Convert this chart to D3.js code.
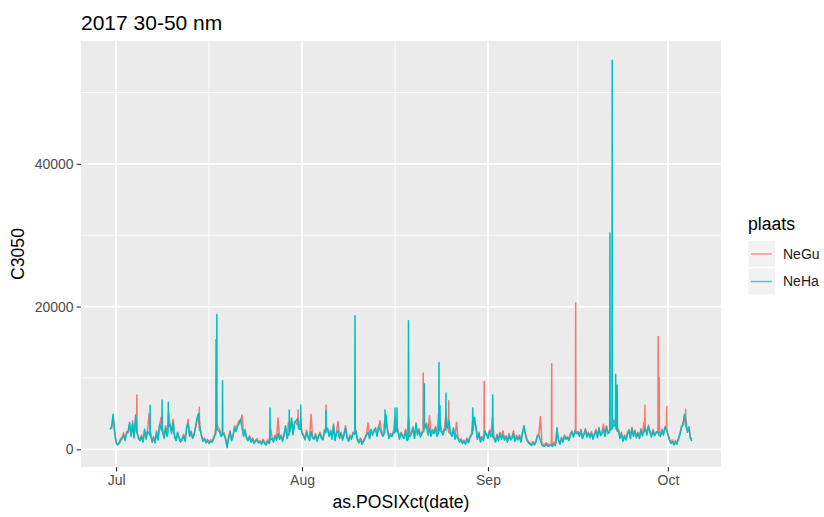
<!DOCTYPE html>
<html>
<head>
<meta charset="utf-8">
<script src="https://cdn.jsdelivr.net/npm/d3@7/dist/d3.min.js"></script>
<style>
  html, body { margin: 0; padding: 0; background: #ffffff; }
  svg { display: block; font-family: "Liberation Sans", Arial, sans-serif; }
</style>
</head>
<body>
<svg id="chart" width="824" height="517"></svg>
<script>
// Particle counts, 30-50 nm. Background readings every 6 hours from
// 2017-06-30 00:00 UTC; short events are kept as hourly readings.
const seriesNames = ["NeGu", "NeHa"];
const seriesColors = ["#F8766D", "#00BFC4"];
const startTime = Date.UTC(2017, 5, 30, 0, 0);
const stepHours = 6;

const neGu = [
  3000, 2900, 4200, 2700,  1100, 700, 900, 1500,  1700, 2300, 1200, 2500,  2300, 3400, 2000, 4000,
  1800, 3900, 2600, 1700,  1400, 2000, 1200, 2600,  1600, 2700, 5000, 2000,  1200, 1800, 1100, 2600,
  1500, 3200, 4500, 2300,  1700, 3300, 2000, 5200,  3200, 2500, 4200, 1900,  1400, 2200, 1700, 1200,
  1500, 2100, 1300, 2700,  4200, 2000, 2600, 1700,  2200, 3000, 4000, 4600,  2800, 2000, 1300, 1600,
  1100, 1400, 1000, 1300,  1200, 1600, 2300, 3800,  3000, 2800, 2000, 2200,  2300, 1600, 500, 1700,
  2600, 1400, 2000, 3300,  2700, 3500, 4000, 3900,  4800, 2000, 2800, 1700,  1400, 1900, 1200, 1600,
  1000, 1300, 1500, 1100,  1200, 900, 1400, 1000,  800, 1300, 1000, 3000,  1700, 1200, 2000, 1500,
  4400, 1600, 2000, 1300,  2200, 3000, 1700, 3800,  2700, 4000, 2200, 3900,  3800, 3200, 3000, 4200,
  2400, 2000, 1500, 2700,  1900, 1400, 4900, 1800,  1600, 2200, 1300, 2000,  2400, 1700, 1500, 2800,
  2600, 2800, 2000, 2700,  1600, 3200, 1400, 2500,  3900, 1700, 2400, 1500,  2200, 3300, 1800, 1300,
  2000, 1600, 2400, 2300,  2600, 1400, 1100, 1600,  900, 1300, 1700, 2200,  3700, 1700, 2600, 2200,
  2700, 2800, 2000, 3000,  4000, 2400, 2000, 3800,  4200, 2800, 1700, 2200,  2000, 2600, 4500, 3500,
  2700, 1600, 2400, 2000,  1700, 2800, 1400, 4500,  2000, 2400, 3200, 1700,  3000, 2200, 2900, 1900,
  2400, 2600, 3000, 3700,  2200, 4700, 2000, 2800,  2400, 3200, 2000, 5000,  4000, 2700, 2200, 3000,
  5000, 3200, 2600, 2400,  2000, 2800, 1600, 3800,  1700, 1200, 1500, 1000,  1300, 900, 1600, 1100,
  1800, 2200, 4500, 4000,  3200, 1600, 2400, 1200,  1800, 1400, 2000, 2200,  1700, 2700, 2000, 4500,
  1700, 1200, 2100, 1400,  2400, 1600, 2600, 1500,  1900, 1200, 2200, 1500,  1700, 2600, 1300, 2000,
  1500, 2000, 1200, 2400,  3000, 2200, 1400, 1100,  900, 700, 1100, 800,  1200, 2000, 2200, 4600,
  800, 600, 700, 900,  600, 700, 700, 600,  1000, 700, 2400, 1400,  900, 1700, 1200, 2000,
  1600, 1800, 1400, 2200,  2600, 1900, 2300, 2400,  2500, 2000, 2800, 1700,  2200, 2900, 1900, 2400,
  1800, 2500, 1600, 2200,  2800, 1800, 3100, 2100,  2400, 3500, 2000, 3300,  2400, 2600, 3000, 3200,
  4100, 3500, 3000, 2800,  1700, 2400, 1300, 2000,  1500, 2300, 2800, 1700,  3100, 2000, 2700, 1800,
  2400, 1700, 2900, 2100,  3700, 2600, 2200, 3400,  2600, 1900, 2800, 2100,  2400, 2500, 2300, 2000,
  2800, 2200, 3200, 2700,  2200, 1500, 1000, 1300,  800, 1200, 900, 1600,  2200, 3200, 3600, 4500,
  3400, 2600, 3200, 1700,  1400
];

const neHa = [
  2800, 3200, 4900, 2500,  900, 600, 800, 1200,  1500, 1900, 1300, 2200,  2500, 3800, 1800, 3500,
  1600, 4800, 2400, 1500,  1200, 1800, 1000, 2800,  1400, 2500, 2200, 1800,  1000, 1600, 900, 2300,
  1300, 3500, 2800, 2000,  1500, 3000, 1800, 2600,  3500, 2200, 3800, 1700,  1200, 2400, 1500, 1000,
  1300, 1900, 1100, 3000,  3600, 1800, 2400, 1500,  2000, 3200, 4400, 5000,  3000, 1800, 1100, 1400,
  900, 1200, 800, 1100,  1000, 1400, 2000, 2300,  2600, 2500, 1800, 2100,  2000, 1400, 230, 1500,
  2400, 1200, 1800, 3000,  2500, 3200, 3600, 4200,  3000, 1800, 2600, 1500,  1200, 1700, 1000, 1400,
  800, 1100, 1300, 900,  1000, 700, 1200, 800,  600, 1100, 800, 1200,  1500, 1000, 1800, 1300,
  2200, 1400, 1800, 1100,  2000, 3300, 1500, 2200,  2500, 4400, 2000, 3600,  4000, 4300, 2800, 3000,
  2200, 1800, 1300, 2400,  1700, 1200, 2500, 1600,  1400, 2000, 1100, 1800,  2200, 1500, 1300, 2600,
  2400, 3000, 1800, 2500,  1400, 3500, 1200, 2300,  2600, 1500, 2200, 1300,  2000, 3000, 1600, 1100,
  1800, 1400, 2200, 2000,  2400, 1200, 900, 1400,  700, 1100, 1500, 2000,  2400, 1500, 2800, 2000,
  2500, 3000, 1800, 3200,  2800, 2200, 1800, 2500,  4800, 2600, 1500, 2000,  1800, 2400, 2400, 2600,
  2500, 1400, 2200, 1800,  1500, 2600, 1200, 2000,  1800, 2200, 3000, 1500,  3700, 2000, 2700, 1700,
  2200, 2500, 3000, 3500,  2000, 3000, 1800, 2600,  2200, 3000, 1800, 2600,  2600, 2500, 2000, 2800,
  2800, 3000, 4000, 2200,  1800, 3000, 1400, 2000,  1500, 1000, 1300, 800,  1100, 700, 1400, 900,
  1600, 2000, 2400, 4500,  3000, 1400, 2200, 1000,  1600, 1200, 2600, 2000,  1500, 2500, 1800, 1800,
  1500, 1000, 1900, 1200,  2200, 1400, 2000, 1300,  1700, 1000, 2000, 1300,  1500, 2200, 1100, 1800,
  1300, 1800, 1000, 2200,  3300, 2000, 1200, 900,  700, 500, 900, 600,  1000, 1800, 2000, 1200,
  600, 400, 500, 700,  400, 500, 600, 400,  800, 500, 3000, 1200,  700, 1500, 1000, 1800,
  1400, 1600, 1200, 2000,  2400, 1700, 2600, 2200,  2300, 1800, 2600, 1500,  2000, 2700, 1700, 2200,
  1600, 2300, 1400, 2000,  2600, 1600, 2900, 1900,  2200, 2800, 1800, 3100,  2200, 2500, 2800, 2700,
  3500, 3000, 2400, 2600,  1500, 2200, 1100, 1800,  1300, 2100, 2600, 1500,  2900, 1800, 2500, 1600,
  2200, 1500, 2700, 1900,  2500, 3000, 2000, 3200,  2400, 1700, 2600, 1900,  2200, 2500, 2000, 1800,
  2600, 2000, 3000, 2800,  2000, 1300, 800, 1100,  600, 1000, 700, 1400,  2000, 3000, 3400, 4900,
  4000, 2400, 3000, 1500,  1200
];

// Short events: [hour after start, reading before, peak reading, reading after]
const neGuPeaks = [
  [107, 2400, 7600, 2200],   [357, 3000, 5900, 2600],   [752, 3300, 5500, 3000],
  [864, 2500, 6200, 2700],   [980, 2200, 6700, 2400],   [1253, 2700, 10700, 2900],
  [1355, 2500, 6800, 2300],  [1497, 1900, 9500, 2100],  [1767, 600, 12000, 700],
  [1863, 2200, 20500, 2400], [2140, 2500, 6200, 2800],  [2193, 2400, 15800, 2600],
  [2197, 2500, 10100, 2300], [2227, 2800, 6000, 2600],  [2303, 3300, 5600, 3100]
];
const neHaPeaks = [
  [160, 2000, 6200, 2400],   [208, 2600, 6900, 3000],   [233, 2400, 6600, 3200],
  [424, 2200, 15400, 3000],  [427, 3200, 18900, 2800],  [450, 2000, 9600, 2200],
  [640, 1000, 5800, 1300],   [717, 2000, 5500, 2400],   [763, 2800, 6200, 3000],
  [864, 2300, 5500, 2600],   [980, 2100, 18700, 2400],  [1100, 2400, 5500, 3000],
  [1140, 2300, 5800, 2500],  [1148, 2600, 5800, 2400],  [1194, 1400, 18000, 1900],
  [1257, 2600, 9200, 3200],  [1316, 2400, 12150, 2800], [1320, 2800, 6100, 2600],
  [1344, 2700, 7900, 3000],  [1451, 2200, 5800, 2600],  [1531, 1900, 7600, 1700],
  [2000, 2400, 30300, 2600], [2009, 2800, 54500, 3000], [2023, 3200, 10500, 2900],
  [2029, 2700, 9000, 2500]
];

const yTicks = [0, 20000, 40000];
const yMinor = [10000, 30000, 50000];
const xTickDates = [new Date(Date.UTC(2017, 6, 1)), new Date(Date.UTC(2017, 7, 1)),
                    new Date(Date.UTC(2017, 8, 1)), new Date(Date.UTC(2017, 9, 1))];
const xTickLabels = ["Jul", "Aug", "Sep", "Oct"];

const titleText = "2017 30-50 nm";
const xTitle = "as.POSIXct(date)";
const yTitle = "C3050";
const legendTitle = "plaats";

// ---- build records: merge background readings with hourly event readings ----
function toRecords(values, peaks) {
  const eventHours = [];
  const events = [];
  peaks.forEach(([h, before, peak, after]) => {
    [[h - 1, before], [h, peak], [h + 1, after]].forEach(([hh, v]) => {
      eventHours.push(hh);
      events.push({ h: hh, v });
    });
  });
  const base = values
    .map((v, i) => ({ h: i * stepHours, v }))
    .filter(r => !eventHours.some(e => Math.abs(e - r.h) <= 1));
  return base.concat(events)
    .sort((a, b) => a.h - b.h)
    .map(r => ({ t: new Date(startTime + r.h * 3600e3), v: r.v }));
}
const series = [toRecords(neGu, neGuPeaks), toRecords(neHa, neHaPeaks)];

// ---- layout ----
const panel = { left: 81, top: 41, right: 721, bottom: 467 };
const svg = d3.select("#chart");
const font = '"Liberation Sans", Arial, sans-serif';

// 5% expansion on both axes
const allPts = series.flat();
const tExt = d3.extent(allPts, d => +d.t);
const vExt = d3.extent(allPts, d => d.v);
const tPad = (tExt[1] - tExt[0]) * 0.05;
const vPad = (vExt[1] - vExt[0]) * 0.05;

const x = d3.scaleUtc()
  .domain([new Date(tExt[0] - tPad), new Date(tExt[1] + tPad)])
  .range([panel.left, panel.right]);
const y = d3.scaleLinear()
  .domain([vExt[0] - vPad, vExt[1] + vPad])
  .range([panel.bottom, panel.top]);

// panel background
svg.append("rect")
  .attr("x", panel.left).attr("y", panel.top)
  .attr("width", panel.right - panel.left).attr("height", panel.bottom - panel.top)
  .attr("fill", "#EBEBEB");

const grid = svg.append("g");
// minor grid halfway between month breaks
const xMinor = [];
for (let i = 0; i < xTickDates.length - 1; i++) {
  xMinor.push(new Date((+xTickDates[i] + +xTickDates[i + 1]) / 2));
}
grid.selectAll(".ym").data(yMinor).join("line")
  .attr("x1", panel.left).attr("x2", panel.right)
  .attr("y1", d => y(d)).attr("y2", d => y(d))
  .attr("stroke", "#ffffff").attr("stroke-width", 0.9);
grid.selectAll(".xm").data(xMinor).join("line")
  .attr("y1", panel.top).attr("y2", panel.bottom)
  .attr("x1", d => x(d)).attr("x2", d => x(d))
  .attr("stroke", "#ffffff").attr("stroke-width", 0.9);
grid.selectAll(".yM").data(yTicks).join("line")
  .attr("x1", panel.left).attr("x2", panel.right)
  .attr("y1", d => y(d)).attr("y2", d => y(d))
  .attr("stroke", "#ffffff").attr("stroke-width", 1.8);
grid.selectAll(".xM").data(xTickDates).join("line")
  .attr("y1", panel.top).attr("y2", panel.bottom)
  .attr("x1", d => x(d)).attr("x2", d => x(d))
  .attr("stroke", "#ffffff").attr("stroke-width", 1.8);

// data lines
svg.append("clipPath").attr("id", "panelClip").append("rect")
  .attr("x", panel.left).attr("y", panel.top)
  .attr("width", panel.right - panel.left).attr("height", panel.bottom - panel.top);

const line = d3.line().x(d => x(d.t)).y(d => y(d.v));
const lines = svg.append("g").attr("clip-path", "url(#panelClip)");
series.forEach((s, i) => {
  lines.append("path")
    .datum(s)
    .attr("d", line)
    .attr("fill", "none")
    .attr("stroke", seriesColors[i])
    .attr("stroke-width", 1.5)
    .attr("stroke-linejoin", "round");
});

// axes
const yAxis = svg.append("g")
  .attr("transform", `translate(${panel.left},0)`)
  .call(d3.axisLeft(y).tickValues(yTicks).tickSize(4.4).tickPadding(3).tickFormat(d3.format("d")));
const xAxis = svg.append("g")
  .attr("transform", `translate(0,${panel.bottom})`)
  .call(d3.axisBottom(x).tickValues(xTickDates).tickSize(4.4).tickPadding(4)
    .tickFormat((d, i) => xTickLabels[i]));
[yAxis, xAxis].forEach(a => {
  a.select(".domain").remove();
  a.selectAll(".tick line").attr("stroke", "#333333").attr("stroke-width", 1.1);
  a.selectAll(".tick text")
    .attr("fill", "#4D4D4D")
    .style("font-family", font)
    .style("font-size", "14px");
});

// titles
svg.append("text")
  .attr("x", panel.left).attr("y", 30)
  .style("font-family", font).style("font-size", "21px")
  .attr("fill", "#000000")
  .text(titleText);
svg.append("text")
  .attr("x", (panel.left + panel.right) / 2).attr("y", 508)
  .attr("text-anchor", "middle")
  .style("font-family", font).style("font-size", "17.6px")
  .attr("fill", "#000000")
  .text(xTitle);
svg.append("text")
  .attr("transform", `translate(24,${(panel.top + panel.bottom) / 2}) rotate(-90)`)
  .attr("text-anchor", "middle")
  .style("font-family", font).style("font-size", "17.6px")
  .attr("fill", "#000000")
  .text(yTitle);

// legend
const legend = svg.append("g");
legend.append("text")
  .attr("x", 748).attr("y", 230)
  .style("font-family", font).style("font-size", "17.6px")
  .attr("fill", "#000000")
  .text(legendTitle);
const keyH = 27.5;
seriesNames.forEach((name, i) => {
  const ky = 241 + i * keyH;
  legend.append("rect")
    .attr("x", 748.5).attr("y", ky)
    .attr("width", 26.5).attr("height", keyH - 1.5)
    .attr("fill", "#F2F2F2");
  legend.append("line")
    .attr("x1", 751).attr("x2", 772)
    .attr("y1", ky + (keyH - 1.5) / 2).attr("y2", ky + (keyH - 1.5) / 2)
    .attr("stroke", seriesColors[i]).attr("stroke-width", 1.5).attr("stroke-opacity", 0.75);
  legend.append("text")
    .attr("x", 783).attr("y", ky + (keyH - 1.5) / 2)
    .attr("dy", "0.35em")
    .style("font-family", font).style("font-size", "14px")
    .attr("fill", "#1A1A1A")
    .text(name);
});
</script>
</body>
</html>
